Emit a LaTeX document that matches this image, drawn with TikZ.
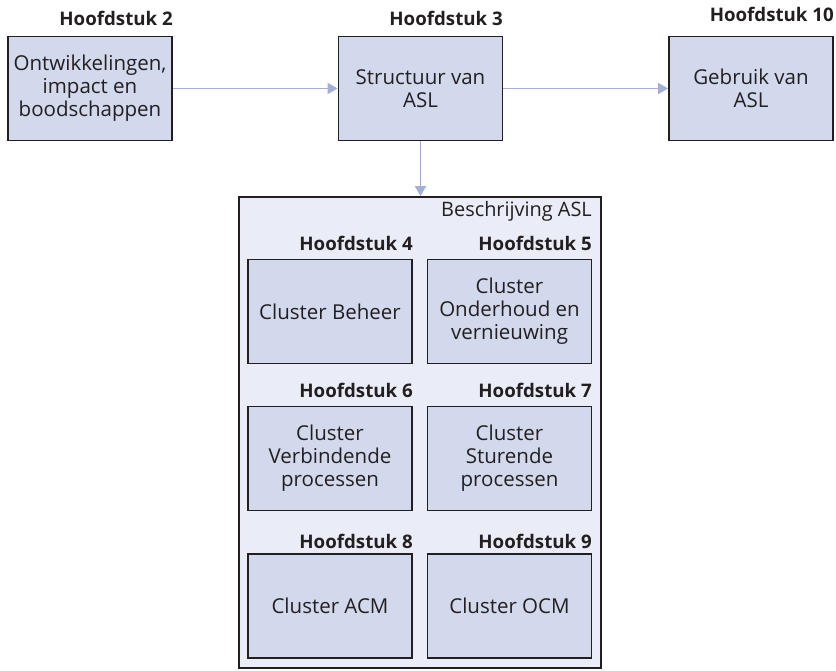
\documentclass[tikz,border=0pt]{standalone}
\usepackage{fontspec}
\setmainfont{Open Sans}
\usetikzlibrary{arrows.meta}
\definecolor{boxfill}{HTML}{D3D9EC}
\definecolor{panelfill}{HTML}{EAEDF7}
\definecolor{arrowcol}{HTML}{A4AFD8}
\definecolor{inkcol}{HTML}{231F20}
\begin{document}
\begin{tikzpicture}[x=1pt,y=-1pt,
  chapbox/.style={draw=inkcol, line width=1.8pt, fill=boxfill, align=center,
    text=inkcol, inner sep=0pt, minimum width=164, minimum height=104,
    font=\fontsize{20.5}{23}\selectfont},
  heading/.style={anchor=base east, inner sep=0pt, text=inkcol,
    font=\bfseries\fontsize{18.7}{21}\selectfont},
  panel/.style={draw=inkcol, line width=1.8pt, fill=panelfill, inner sep=0pt},
  flow/.style={draw=arrowcol, line width=1.8pt,
    -{Triangle[length=10pt,width=11pt]}}]
\useasboundingbox (0,0) rectangle (836,670);

% container for the cluster chapters
\node[panel, minimum width=362, minimum height=471] (panel) at (420,432.5) {};
\node[anchor=base east, inner sep=0pt, text=inkcol,
  font=\fontsize{19.9}{22}\selectfont] (paneltitle) at (592,216) {Beschrijving ASL};

% top row
\node[chapbox] (b2) at (90,88.5) {Ontwikkelingen,\\impact en\\boodschappen};
\node[chapbox] (b3) at (420.5,88.5) {Structuur van\\ASL};
\node[chapbox] (b10) at (751,88.5) {Gebruik van\\ASL};
\node[heading] (h2) at (173,25) {Hoofdstuk 2};
\node[heading] (h3) at (503,25) {Hoofdstuk 3};
\node[heading] (h10) at (834,21) {Hoofdstuk 10};

% clusters
\node[chapbox] (c4) at (330,311.5) {Cluster Beheer};
\node[chapbox] (c5) at (509.5,311.5) {Cluster\\Onderhoud en\\vernieuwing};
\node[chapbox] (c6) at (330,458.4) {Cluster\\Verbindende\\processen};
\node[chapbox] (c7) at (509.5,458.4) {Cluster\\Sturende\\processen};
\node[chapbox] (c8) at (330,606) {Cluster ACM};
\node[chapbox] (c9) at (509.5,606) {Cluster OCM};
\node[heading] (h4) at (413,250) {Hoofdstuk 4};
\node[heading] (h5) at (592,250) {Hoofdstuk 5};
\node[heading] (h6) at (413,397) {Hoofdstuk 6};
\node[heading] (h7) at (592,397) {Hoofdstuk 7};
\node[heading] (h8) at (413,548) {Hoofdstuk 8};
\node[heading] (h9) at (592,548) {Hoofdstuk 9};

% connectors
\draw[flow] (b2.east) -- (b3.west);
\draw[flow] (b3.east) -- (b10.west);
\draw[flow] (b3.south) -- (b3.south |- panel.north);
\end{tikzpicture}
\end{document}
